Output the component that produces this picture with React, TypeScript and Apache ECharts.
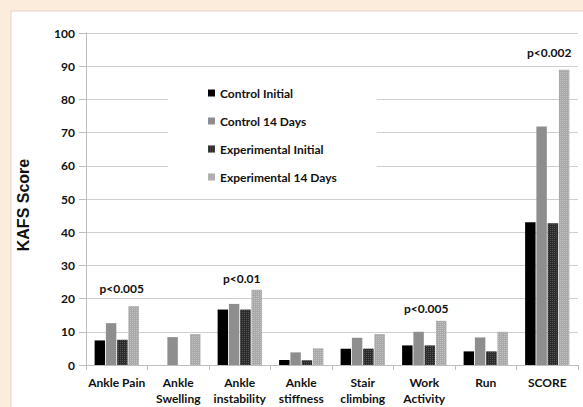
import React, { useEffect, useRef } from "react";
import * as echarts from "echarts";

const categories = [
  "Ankle Pain",
  "Ankle\nSwelling",
  "Ankle\ninstability",
  "Ankle\nstiffness",
  "Stair\nclimbing",
  "Work\nActivity",
  "Run",
  "SCORE",
];
const controlInitial = [7.4, 0, 16.7, 1.5, 4.9, 5.9, 4.1, 43.0];
const control14 = [12.6, 8.4, 18.4, 3.8, 8.2, 10.0, 8.3, 71.8];
const experimentalInitial = [7.6, 0, 16.7, 1.4, 4.9, 5.9, 4.1, 42.7];
const experimental14 = [17.7, 9.3, 22.7, 5.0, 9.3, 13.3, 10.0, 88.9];
// significance notes attached to the Experimental 14 Days bars
const pValues: (string | null)[] = [
  "p<0.005",
  null,
  "p<0.01",
  null,
  null,
  "p<0.005",
  null,
  "p<0.002",
];
const labelShift: [number, number][] = [
  [-12, -6],
  [0, 0],
  [-15, 1],
  [0, 0],
  [0, 0],
  [-15, 0],
  [0, 0],
  [-15, -5],
];
const yTicks = [0, 100, 10];

const FONT = "Lato, 'Open Sans', sans-serif";

export default function App() {
  const ref = useRef<HTMLDivElement>(null);

  useEffect(() => {
    document.body.style.margin = "0";
    const chart = echarts.init(ref.current!, null, { renderer: "svg" });

    const lightData = experimental14.map((v, i) => {
      const p = pValues[i];
      if (!p) return v;
      return {
        value: v,
        label: {
          show: true,
          formatter: p,
          position: "top",
          distance: 6,
          offset: labelShift[i],
          color: "#111",
          fontFamily: FONT,
          fontWeight: "bold",
          fontSize: 12,
        },
      };
    });

    const bar = (name: string, data: any[], color: string, decal?: any) => ({
      name,
      type: "bar",
      data,
      barGap: "8%",
      barCategoryGap: "28%",
      itemStyle: { color, decal },
    });

    chart.setOption({
      animation: false,
      backgroundColor: "#fcecdc",
      graphic: [
        {
          type: "rect",
          z: -10,
          shape: { x: 11, y: 11, width: 600, height: 420 },
          style: { fill: "#ffffff", stroke: "#e6d4c2", lineWidth: 1 },
        },
      ],
      grid: { left: 86, top: 33, right: 5, bottom: 42 },
      legend: {
        orient: "vertical",
        left: 168,
        top: 72,
        itemGap: 14,
        itemWidth: 7,
        itemHeight: 7,
        backgroundColor: "#ffffff",
        padding: [14, 40, 12, 40],
        icon: "rect",
        textStyle: {
          fontFamily: FONT,
          fontWeight: "bold",
          fontSize: 12,
          lineHeight: 14,
          color: "#111",
        },
        data: [
          "Control Initial",
          "Control 14 Days",
          "Experimental Initial",
          "Experimental 14 Days",
        ],
      },
      xAxis: {
        type: "category",
        data: categories,
        axisLine: { lineStyle: { color: "#bdbdbd" } },
        axisTick: { show: true, length: 5, lineStyle: { color: "#bdbdbd" } },
        axisLabel: {
          interval: 0,
          margin: 9,
          fontFamily: FONT,
          fontWeight: "bold",
          fontSize: 12,
          lineHeight: 16,
          color: "#111",
        },
      },
      yAxis: {
        type: "value",
        min: yTicks[0],
        max: yTicks[1],
        interval: yTicks[2],
        name: "KAFS Score",
        nameLocation: "middle",
        nameGap: 55,
        nameRotate: 90,
        nameTextStyle: {
          fontFamily: "'Liberation Sans', Arial, sans-serif",
          fontWeight: "bold",
          fontSize: 16,
          color: "#111",
          padding: [0, 12, 0, 0],
        },
        axisLine: { show: true, lineStyle: { color: "#bdbdbd" } },
        axisTick: { show: true, length: 7, lineStyle: { color: "#bdbdbd" } },
        axisLabel: {
          margin: 11,
          fontFamily: FONT,
          fontWeight: "bold",
          fontSize: 12,
          color: "#111",
        },
        splitLine: { lineStyle: { color: "#cfcfcf" } },
      },
      series: [
        bar("Control Initial", controlInitial, "#000000"),
        bar("Control 14 Days", control14, "#8e8e8e"),
        bar("Experimental Initial", experimentalInitial, "#2b2b2b", {
          symbol: "rect",
          symbolSize: 1,
          dashArrayX: [1, 1],
          dashArrayY: [1, 1],
          color: "rgba(90,90,90,0.9)",
        }),
        bar("Experimental 14 Days", lightData, "#a9a9a9", {
          symbol: "rect",
          symbolSize: 1,
          dashArrayX: [1, 1],
          dashArrayY: [1, 1],
          color: "rgba(200,200,200,0.8)",
        }),
      ],
    });

    return () => chart.dispose();
  }, []);

  return <div ref={ref} style={{ width: 583, height: 407 }} />;
}
